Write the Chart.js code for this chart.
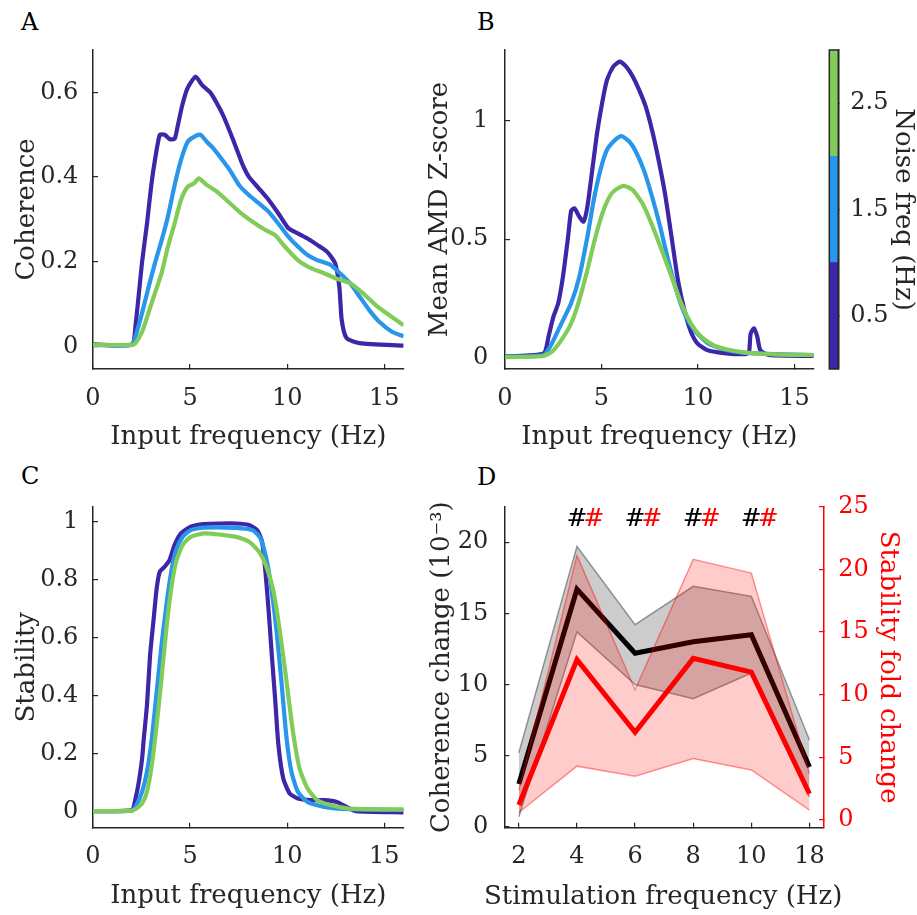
<!DOCTYPE html>
<html>
<head>
<meta charset="utf-8">
<script src="https://cdn.jsdelivr.net/npm/chart.js@4.4.1/dist/chart.umd.min.js"></script>
<style>
  body { margin: 0; background: #fff; }
  #fig { position: relative; width: 917px; height: 915px; font-family: 'DejaVu Serif', serif; }
  canvas { position: absolute; }
  .panel-letter { position: absolute; font-size: 24px; line-height: 1; color: #000; }
</style>
</head>
<body>
<div id="fig">
  <div class="panel-letter" style="left:21px;top:10px">A</div>
  <div class="panel-letter" style="left:477px;top:10px">B</div>
  <div class="panel-letter" style="left:21px;top:464px">C</div>
  <div class="panel-letter" style="left:477px;top:465px">D</div>
  <canvas id="chartA" width="420" height="460" style="left:0;top:0"></canvas>
  <canvas id="chartB" width="410" height="460" style="left:420px;top:0"></canvas>
  <canvas id="colorbar" width="97" height="460" style="left:820px;top:0"></canvas>
  <canvas id="chartC" width="420" height="455" style="left:0;top:460px"></canvas>
  <canvas id="chartD" width="497" height="455" style="left:420px;top:460px"></canvas>
</div>
<script>
// noise levels (Hz) and their colours
const noiseFreqs = [0.5, 1.5, 2.5];
const noiseColors = ['#3e26a8', '#2796eb', '#81cc59'];

// A: coherence vs input frequency
const aDarkX = [0, 2, 2.19, 2.53, 2.78, 3, 3.19, 3.44, 3.69, 3.94, 4.2, 4.36, 4.6, 4.87, 5.28, 5.62, 6.04, 6.37, 6.7, 7.2, 7.7, 8.04, 8.55, 9.05, 9.55, 10.05, 10.55, 11.05, 11.55, 12.05, 12.47, 12.69, 12.81, 13.06, 13.73, 16];
const aDarkY = [0.005, 0.005, 0.05, 0.2, 0.29, 0.38, 0.44, 0.5, 0.5, 0.49, 0.49, 0.52, 0.57, 0.61, 0.637, 0.617, 0.6, 0.575, 0.546, 0.49, 0.43, 0.4, 0.373, 0.346, 0.314, 0.28, 0.267, 0.255, 0.24, 0.224, 0.197, 0.14, 0.063, 0.02, 0.008, 0.002];
const aBlueX = [0, 2, 2.19, 2.53, 2.86, 3.19, 3.53, 3.86, 4.2, 4.53, 4.87, 5.2, 5.53, 5.87, 6.2, 6.54, 7.04, 7.54, 8.04, 8.55, 9.05, 9.55, 10.05, 10.55, 11.05, 11.55, 12.22, 12.72, 13.23, 13.73, 14.23, 14.73, 15.4, 16];
const aBlueY = [0.004, 0.004, 0.024, 0.08, 0.14, 0.197, 0.25, 0.307, 0.38, 0.44, 0.483, 0.495, 0.5, 0.483, 0.468, 0.448, 0.417, 0.38, 0.357, 0.338, 0.318, 0.29, 0.26, 0.236, 0.216, 0.204, 0.193, 0.173, 0.15, 0.118, 0.086, 0.059, 0.035, 0.024];
const aGreenX = [0, 2, 2.19, 2.53, 2.86, 3.19, 3.53, 3.86, 4.2, 4.53, 4.87, 5.2, 5.45, 5.87, 6.37, 6.87, 7.54, 8.2, 8.88, 9.38, 9.88, 10.55, 11.22, 11.9, 12.56, 13.23, 13.9, 14.56, 15.23, 16];
const aGreenY = [0.004, 0.004, 0.008, 0.035, 0.08, 0.126, 0.173, 0.236, 0.29, 0.346, 0.377, 0.385, 0.397, 0.381, 0.366, 0.346, 0.318, 0.295, 0.275, 0.263, 0.236, 0.204, 0.185, 0.173, 0.16, 0.15, 0.126, 0.098, 0.075, 0.05];

// B: mean AMD z-score vs input frequency
const bDarkX = [0, 2, 2.26, 2.5, 2.76, 3, 3.27, 3.43, 3.6, 3.85, 4.07, 4.27, 4.52, 4.77, 5.03, 5.28, 5.61, 5.95, 6.28, 6.62, 6.95, 7.29, 7.62, 7.96, 8.29, 8.63, 8.96, 9.3, 9.63, 9.97, 10.47, 11.47, 12.48, 12.65, 12.73, 12.9, 13.07, 13.23, 13.65, 16];
const bDarkY = [0.005, 0.018, 0.09, 0.17, 0.23, 0.34, 0.51, 0.62, 0.63, 0.595, 0.574, 0.637, 0.79, 0.946, 1.073, 1.17, 1.228, 1.249, 1.228, 1.186, 1.13, 1.06, 0.96, 0.834, 0.693, 0.51, 0.328, 0.2, 0.11, 0.06, 0.032, 0.018, 0.015, 0.025, 0.1, 0.124, 0.09, 0.032, 0.011, 0.007];
const bBlueX = [0, 2, 2.43, 2.93, 3.43, 3.85, 4.27, 4.6, 4.94, 5.28, 5.7, 6.03, 6.45, 6.78, 7.2, 7.62, 8.04, 8.46, 8.88, 9.3, 9.8, 10.47, 11.3, 12.3, 14, 16];
const bBlueY = [0.004, 0.011, 0.06, 0.145, 0.23, 0.34, 0.51, 0.665, 0.79, 0.876, 0.918, 0.935, 0.911, 0.87, 0.79, 0.68, 0.553, 0.41, 0.285, 0.187, 0.117, 0.063, 0.035, 0.021, 0.015, 0.011];
const bGreenX = [0, 2, 2.43, 2.93, 3.43, 3.85, 4.27, 4.69, 5.11, 5.53, 5.95, 6.2, 6.62, 7.12, 7.62, 8.12, 8.63, 9.13, 9.63, 10.13, 10.8, 11.47, 12.48, 14, 16];
const bGreenY = [0.002, 0.007, 0.025, 0.075, 0.145, 0.243, 0.37, 0.51, 0.623, 0.693, 0.719, 0.724, 0.707, 0.651, 0.56, 0.454, 0.342, 0.23, 0.145, 0.091, 0.053, 0.035, 0.021, 0.014, 0.011];

// C: stability vs input frequency
const cDarkX = [0, 2, 2.19, 2.36, 2.53, 2.61, 2.78, 2.94, 3.11, 3.28, 3.44, 3.69, 3.94, 4.2, 4.53, 5.03, 5.7, 6.54, 7.37, 8.04, 8.46, 8.71, 8.88, 9.05, 9.21, 9.38, 9.55, 9.8, 10.13, 10.55, 11.22, 11.89, 12.56, 13.06, 13.56, 16];
const cDarkY = [0.002, 0.006, 0.046, 0.103, 0.184, 0.247, 0.368, 0.54, 0.655, 0.77, 0.828, 0.845, 0.868, 0.92, 0.96, 0.983, 0.992, 0.994, 0.994, 0.989, 0.971, 0.931, 0.828, 0.69, 0.54, 0.39, 0.23, 0.115, 0.063, 0.046, 0.04, 0.04, 0.034, 0.017, 0.002, -0.002];
const cBlueX = [0, 2, 2.19, 2.53, 2.78, 3.03, 3.28, 3.53, 3.78, 4.03, 4.28, 4.62, 5.03, 5.7, 7.37, 8.21, 8.63, 8.96, 9.21, 9.46, 9.72, 9.97, 10.22, 10.55, 11.05, 11.89, 13.23, 16];
const cBlueY = [0.002, 0.004, 0.017, 0.069, 0.138, 0.253, 0.414, 0.575, 0.713, 0.828, 0.902, 0.948, 0.971, 0.98, 0.979, 0.971, 0.943, 0.862, 0.759, 0.62, 0.437, 0.253, 0.138, 0.069, 0.034, 0.017, 0.009, 0.006];
const cGreenX = [0, 2, 2.19, 2.53, 2.78, 3.03, 3.28, 3.53, 3.78, 4.03, 4.28, 4.62, 5.03, 5.7, 6.54, 7.37, 8.04, 8.55, 8.96, 9.3, 9.63, 9.97, 10.3, 10.64, 11.05, 11.55, 12.22, 13.23, 16];
const cGreenY = [0.002, 0.004, 0.009, 0.029, 0.069, 0.161, 0.3, 0.46, 0.632, 0.77, 0.862, 0.92, 0.948, 0.96, 0.956, 0.948, 0.931, 0.897, 0.84, 0.759, 0.62, 0.448, 0.276, 0.149, 0.08, 0.04, 0.023, 0.011, 0.008];

// D: stimulation effects
const stimFreqs = ['2', '4', '6', '8', '10', '18'];
const cohMean = [3.0, 16.7, 12.2, 13.0, 13.5, 4.2];
const cohUpper = [5.2, 19.7, 14.2, 16.9, 16.2, 6.1];
const cohLower = [0.7, 13.7, 10.0, 9.0, 10.8, 2.1];
const stabMean = [1.2, 12.8, 7.0, 12.9, 11.8, 2.1];
const stabUpper = [2.4, 21.1, 10.4, 20.8, 19.7, 3.7];
const stabLower = [0.6, 4.3, 3.5, 4.9, 4.0, 0.8];
const sigFreqs = ['4', '6', '8', '10'];
const hashLevel = 21.6;

// tick labels
const freqTicks = [0, 5, 10, 15];
const cohTicks = [0, 0.2, 0.4, 0.6];
const amdTicks = [0, 0.5, 1];
const stabTicks = [0, 0.2, 0.4, 0.6, 0.8, 1];
const cohChangeTicks = [0, 5, 10, 15, 20];
const foldTicks = [0, 5, 10, 15, 20, 25];

const INK = '#262626';
const RED = '#ff0000';
const FONT = 'DejaVu Serif';
const TICK_SIZE = 24;
const TITLE_SIZE = 26;

Chart.defaults.font.family = FONT;

function axis(opts) {
  const color = opts.color || INK;
  return {
    type: 'linear',
    position: opts.position,
    min: opts.min,
    max: opts.max,
    border: { display: true, color, width: 1.5 },
    grid: { drawOnChartArea: false, drawTicks: true, tickLength: -5, color, lineWidth: 1.2 },
    ticks: {
      color,
      padding: opts.padding,
      font: { family: FONT, size: TICK_SIZE },
      maxRotation: 0,
      autoSkip: false,
      callback: opts.label || ((v) => String(v)),
    },
    title: {
      display: Boolean(opts.title),
      text: opts.title,
      color,
      font: { family: FONT, size: TITLE_SIZE },
      padding: opts.titlePad,
    },
    afterBuildTicks: (scale) => {
      scale.ticks = opts.ticks.map((value) => ({ value }));
    },
    afterFit: (scale) => {
      if (scale.isHorizontal()) scale.height = opts.size;
      else scale.width = opts.size;
    },
  };
}

function curveSets(xs, ys) {
  return noiseFreqs.map((f, i) => ({
    label: `${f} Hz`,
    data: xs[i].map((x, j) => ({ x, y: ys[i][j] })),
    borderColor: noiseColors[i],
    borderWidth: 4.2,
    pointRadius: 0,
    tension: 0.2,
    fill: false,
    order: noiseFreqs.length - i,
  }));
}

const baseOptions = {
  responsive: false,
  animation: false,
  plugins: { legend: { display: false }, tooltip: { enabled: false } },
};

function freqPanel(id, padding, xCfg, yCfg, datasets) {
  return new Chart(document.getElementById(id), {
    type: 'line',
    data: { datasets },
    options: {
      ...baseOptions,
      layout: { padding },
      scales: { x: axis(xCfg), y: axis(yCfg) },
    },
  });
}

freqPanel('chartA', { left: 0, right: 8, top: 50, bottom: 0 },
  { position: 'bottom', min: 0, max: 16, ticks: freqTicks, padding: 20, size: 91,
    title: 'Input frequency (Hz)', titlePad: { top: 0, bottom: 7 } },
  { position: 'left', min: -0.053, max: 0.7, ticks: cohTicks, padding: 19.7, size: 93,
    title: 'Coherence', titlePad: { top: 12, bottom: 0 } },
  curveSets([aDarkX, aBlueX, aGreenX], [aDarkY, aBlueY, aGreenY]));

freqPanel('chartB', { left: 0, right: 5, top: 50, bottom: 0 },
  { position: 'bottom', min: 0, max: 16, ticks: freqTicks, padding: 20, size: 91,
    title: 'Input frequency (Hz)', titlePad: { top: 0, bottom: 7 } },
  { position: 'left', min: -0.048, max: 1.298, ticks: amdTicks, padding: 21.7, size: 85,
    title: 'Mean AMD Z-score', titlePad: { top: 5, bottom: 0 } },
  curveSets([bDarkX, bBlueX, bGreenX], [bDarkY, bBlueY, bGreenY]));

freqPanel('chartC', { left: 0, right: 8, top: 46.7, bottom: 0 },
  { position: 'bottom', min: 0, max: 16, ticks: freqTicks, padding: 20, size: 87.3,
    title: 'Input frequency (Hz)', titlePad: { top: 0, bottom: 3 } },
  { position: 'left', min: -0.055, max: 1.052, ticks: stabTicks, padding: 19.7, size: 93,
    title: 'Stability', titlePad: { top: 12, bottom: 0 } },
  curveSets([cDarkX, cBlueX, cGreenX], [cDarkY, cBlueY, cGreenY]));

// colour bar for panel B
const framePlugin = {
  id: 'frame',
  afterDatasetsDraw(chart) {
    const { ctx, chartArea } = chart;
    ctx.save();
    ctx.strokeStyle = INK;
    ctx.lineWidth = 1.5;
    ctx.strokeRect(chartArea.left, chartArea.top, chartArea.right - chartArea.left, chartArea.bottom - chartArea.top);
    ctx.restore();
  },
};

new Chart(document.getElementById('colorbar'), {
  type: 'bar',
  data: {
    labels: ['noise'],
    datasets: noiseFreqs.map((f, i) => ({
      data: [[f - 0.5, f + 0.5]],
      backgroundColor: noiseColors[i],
      borderWidth: 0,
      barPercentage: 1,
      categoryPercentage: 1,
      grouped: false,
    })),
  },
  options: {
    ...baseOptions,
    layout: { padding: { left: 9.3, right: 0, top: 50, bottom: 91 } },
    scales: {
      x: { display: false },
      y: axis({ position: 'right', min: 0, max: 3, ticks: noiseFreqs, padding: 17, size: 78.7,
        title: 'Noise freq (Hz)', titlePad: { top: -1.6, bottom: 0 } }),
    },
  },
  plugins: [framePlugin],
});

// panel D: significance marks and an x title that is not squeezed to the axis width
const hashPlugin = {
  id: 'sigHashes',
  afterDatasetsDraw(chart) {
    const { ctx, scales, chartArea } = chart;
    ctx.save();
    ctx.font = `${TICK_SIZE + 1}px ${FONT}`;
    ctx.textAlign = 'center';
    ctx.textBaseline = 'middle';
    sigFreqs.forEach((f) => {
      const px = scales.x.getPixelForValue(stimFreqs.indexOf(f));
      const py = scales.y.getPixelForValue(hashLevel);
      ctx.fillStyle = '#000';
      ctx.fillText('#', px, py);
      ctx.fillStyle = RED;
      ctx.fillText('#', px + 17, py);
    });
    ctx.font = `${TITLE_SIZE}px ${FONT}`;
    ctx.fillStyle = INK;
    ctx.fillText('Stimulation frequency (Hz)', (chartArea.left + chartArea.right) / 2 - 1, chart.height - 18);
    ctx.restore();
  },
};

function indexed(values) {
  return values.map((y, i) => ({ x: i, y }));
}

const bandEdge = { pointRadius: 0, tension: 0, borderWidth: 1.5 };

new Chart(document.getElementById('chartD'), {
  type: 'line',
  data: {
    datasets: [
      { ...bandEdge, data: indexed(cohUpper), yAxisID: 'y', borderColor: 'rgba(90,90,90,0.6)', backgroundColor: 'rgba(128,128,128,0.4)', fill: '+1', order: 6 },
      { ...bandEdge, data: indexed(cohLower), yAxisID: 'y', borderColor: 'rgba(90,90,90,0.6)', fill: false, order: 5 },
      { data: indexed(cohMean), yAxisID: 'y', borderColor: '#000', borderWidth: 5, pointRadius: 0, tension: 0, fill: false, order: 4 },
      { ...bandEdge, data: indexed(stabUpper), yAxisID: 'y2', borderColor: 'rgba(255,0,0,0.4)', backgroundColor: 'rgba(255,0,0,0.2)', fill: '+1', order: 3 },
      { ...bandEdge, data: indexed(stabLower), yAxisID: 'y2', borderColor: 'rgba(255,0,0,0.4)', fill: false, order: 2 },
      { data: indexed(stabMean), yAxisID: 'y2', borderColor: RED, borderWidth: 5, pointRadius: 0, tension: 0, fill: false, order: 1 },
    ],
  },
  options: {
    ...baseOptions,
    layout: { padding: { left: 0, right: 0, top: 46.7, bottom: 0 } },
    scales: {
      x: axis({ position: 'bottom', min: -0.25, max: stimFreqs.length - 0.75, ticks: stimFreqs.map((f, i) => i),
        label: (v) => stimFreqs[v], padding: 19.6, size: 87.3 }),
      y: axis({ position: 'left', min: -0.07, max: 22.5, ticks: cohChangeTicks, padding: 21, size: 84.3,
        title: 'Coherence change (10⁻³)', titlePad: { top: 7, bottom: 0 } }),
      y2: axis({ position: 'right', color: RED, min: -0.61, max: 25, ticks: foldTicks, padding: 19.3, size: 93,
        title: 'Stability fold change', titlePad: { top: 14, bottom: 0 } }),
    },
  },
  plugins: [hashPlugin],
});
</script>
</body>
</html>
